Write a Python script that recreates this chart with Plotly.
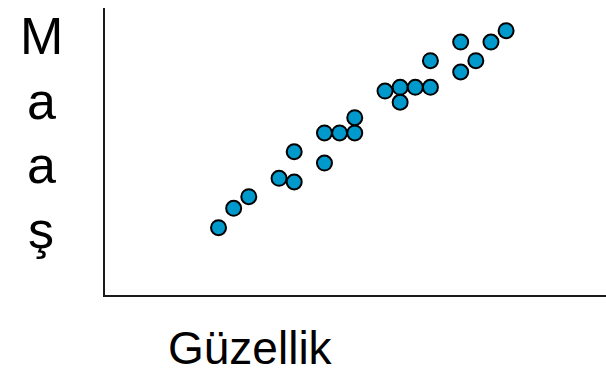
import plotly.graph_objects as go

# Güzellik (beauty) vs Maaş (salary) — values in arbitrary units
guzellik = [7.5, 8.5, 9.5, 11.5, 12.5, 12.5, 14.5, 14.5, 15.5, 16.5, 16.5,
            18.5, 19.5, 19.5, 20.5, 21.5, 21.5, 23.5, 23.5, 24.5, 25.5, 26.5]
maas = [4.45, 5.73, 6.5, 7.71, 9.47, 7.47, 8.72, 10.71, 10.71, 10.71, 11.72,
        13.48, 13.73, 12.74, 13.73, 13.73, 15.49, 16.72, 14.74, 15.49, 16.72, 17.47]

x_label = "Güzellik"
y_letters = ["M", "a", "a", "ş"]

W, H = 606, 376
L, R, T, B = 105, 0, 8, 81

fig = go.Figure()
fig.add_trace(go.Scatter(
    x=guzellik, y=maas, mode="markers",
    marker=dict(size=15, color="#0099CC", line=dict(color="#000000", width=2)),
    showlegend=False, hoverinfo="skip",
))

font_family = "Liberation Sans, Arial, sans-serif"
annotations = [dict(
    text=x_label, xref="paper", yref="paper", x=(250 - L) / (W - L - R),
    y=(H - B - H) / (H - T - B), xanchor="center", yanchor="bottom",
    showarrow=False, font=dict(family=font_family, size=46, color="#000000"),
)]
y_centers = [36, 101, 165, 230]
for letter, yc in zip(y_letters, y_centers):
    annotations.append(dict(
        text=letter, xref="paper", yref="paper", x=(41 - L) / (W - L - R),
        y=(H - B - yc) / (H - T - B), xanchor="center", yanchor="middle",
        showarrow=False, font=dict(family=font_family, size=52, color="#000000"),
    ))

fig.update_layout(
    width=W, height=H,
    margin=dict(l=L, r=R, t=T, b=B),
    plot_bgcolor="white", paper_bgcolor="white",
    xaxis=dict(range=[0, 33.1], showgrid=False, zeroline=False, showticklabels=False,
               ticks="", showline=True, linecolor="#1a1a1a", linewidth=2, fixedrange=True),
    yaxis=dict(range=[0, 18.97], showgrid=False, zeroline=False, showticklabels=False,
               ticks="", showline=True, linecolor="#1a1a1a", linewidth=2, fixedrange=True),
    annotations=annotations,
)

fig.write_html("out.html", config={"displayModeBar": False},
               post_script="document.body.style.margin='0';document.body.style.overflow='hidden';")
